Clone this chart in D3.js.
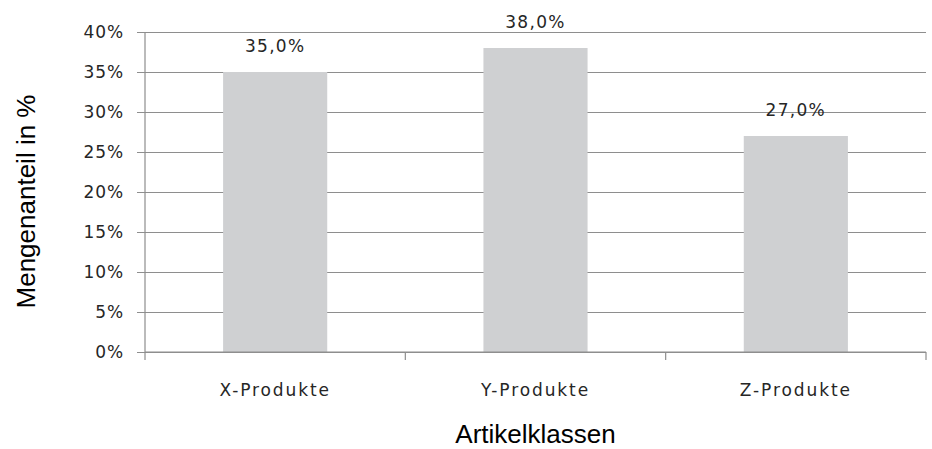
<!DOCTYPE html>
<html>
<head>
<meta charset="utf-8">
<script src="https://cdn.jsdelivr.net/npm/d3@7"></script>
<style>
  html, body { margin: 0; padding: 0; background: #fff; }
  svg { display: block; }
</style>
</head>
<body>
<svg id="chart" width="932" height="449"></svg>
<script>
// Artikelklassen und ihr Mengenanteil
const categories = ["X-Produkte", "Y-Produkte", "Z-Produkte"];
const shares = [35.0, 38.0, 27.0];
const yTicks = [0, 5, 10, 15, 20, 25, 30, 35, 40];
const yTitle = "Mengenanteil in %";
const xTitle = "Artikelklassen";

const svg = d3.select("#chart");
const plot = { left: 145, right: 926, top: 32, bottom: 352 };

const x = d3.scaleBand()
  .domain(categories)
  .range([plot.left, plot.right])
  .padding(0);

const y = d3.scaleLinear()
  .domain([0, 40])
  .range([plot.bottom, plot.top]);

const gridColor = "#8e8e8e";
const tickFont = "'DejaVu Sans', sans-serif";

// horizontal gridlines with outward tick stubs and labels
const yAxis = d3.axisLeft(y)
  .tickValues(yTicks)
  .tickSize(-(plot.right - plot.left))
  .tickPadding(21)
  .tickFormat(d => d + "%");

const gy = svg.append("g")
  .attr("transform", `translate(${plot.left},0)`)
  .call(yAxis);
gy.select(".domain").remove();
gy.selectAll(".tick line")
  .attr("x1", -8)
  .attr("stroke", gridColor)
  .attr("stroke-width", 1.2);
gy.selectAll(".tick text")
  .attr("font-family", tickFont)
  .attr("font-size", 17)
  .attr("letter-spacing", "0.9px")
  .attr("fill", "#262626");

// vertical axis line
svg.append("line")
  .attr("x1", plot.left).attr("x2", plot.left)
  .attr("y1", plot.top).attr("y2", plot.bottom + 8)
  .attr("stroke", gridColor)
  .attr("stroke-width", 1.2);

// bars
const barW = x.bandwidth() * 0.4;
svg.append("g")
  .selectAll("rect")
  .data(categories)
  .join("rect")
  .attr("x", d => x(d) + (x.bandwidth() - barW) / 2)
  .attr("y", (d, i) => y(shares[i]))
  .attr("width", barW)
  .attr("height", (d, i) => y(0) - y(shares[i]))
  .attr("fill", "#cfd0d2");

// value labels
const fmt = v => v.toFixed(1).replace(".", ",") + "%";
svg.append("g")
  .selectAll("text")
  .data(categories)
  .join("text")
  .attr("x", d => x(d) + x.bandwidth() / 2)
  .attr("y", (d, i) => y(shares[i]) - 20)
  .attr("text-anchor", "middle")
  .attr("font-family", tickFont)
  .attr("font-size", 17)
  .attr("letter-spacing", "1.3px")
  .attr("fill", "#262626")
  .text((d, i) => fmt(shares[i]));

// category axis with ticks at band boundaries
const gx = svg.append("g");
gx.append("line")
  .attr("x1", plot.left).attr("x2", plot.right)
  .attr("y1", y(0)).attr("y2", y(0))
  .attr("stroke", gridColor)
  .attr("stroke-width", 1.2);
const bounds = categories.map(c => x(c)).concat([x(categories[categories.length - 1]) + x.bandwidth()]);
gx.selectAll("line.bt")
  .data(bounds.slice(1))
  .join("line")
  .attr("class", "bt")
  .attr("x1", d => d).attr("x2", d => d)
  .attr("y1", y(0)).attr("y2", y(0) + 8)
  .attr("stroke", gridColor)
  .attr("stroke-width", 1.2);
gx.selectAll("text")
  .data(categories)
  .join("text")
  .attr("x", d => x(d) + x.bandwidth() / 2)
  .attr("y", 396)
  .attr("text-anchor", "middle")
  .attr("font-family", tickFont)
  .attr("font-size", 17)
  .attr("letter-spacing", "1.9px")
  .attr("fill", "#262626")
  .text(d => d);

// axis titles
svg.append("text")
  .attr("transform", `translate(35,${(95 + 308) / 2}) rotate(-90)`)
  .attr("text-anchor", "middle")
  .attr("font-family", "'Liberation Sans', Arial, sans-serif")
  .attr("font-size", 26)
  .attr("fill", "#000")
  .text(yTitle);

svg.append("text")
  .attr("x", (plot.left + plot.right) / 2)
  .attr("y", 443)
  .attr("text-anchor", "middle")
  .attr("font-family", "'Liberation Sans', Arial, sans-serif")
  .attr("font-size", 26)
  .attr("fill", "#000")
  .text(xTitle);
</script>
</body>
</html>
